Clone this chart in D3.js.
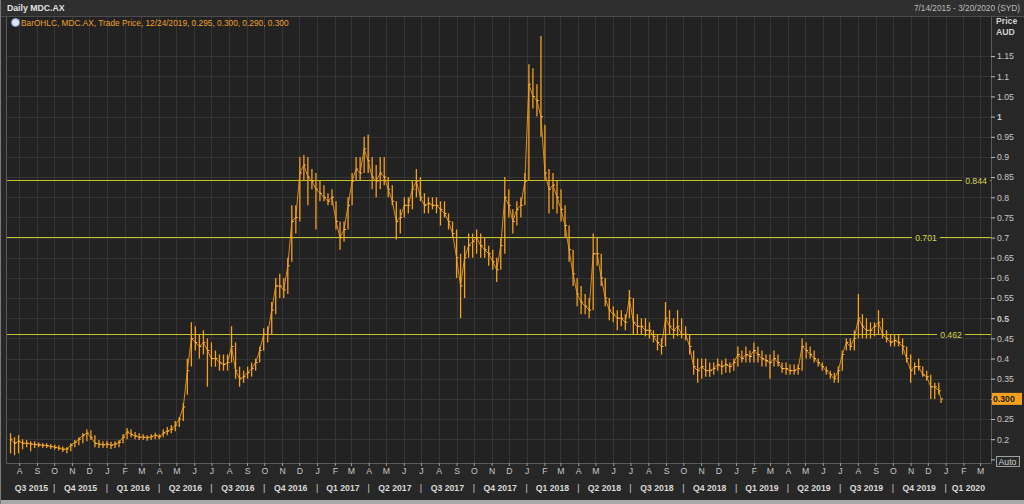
<!DOCTYPE html>
<html>
<head>
<meta charset="utf-8">
<script src="https://cdn.jsdelivr.net/npm/d3@7"></script>
<style>
  html, body { margin: 0; padding: 0; background: #262626; }
  svg { display: block; font-family: "Liberation Sans", Arial, sans-serif; }
</style>
</head>
<body>
<svg id="chart" width="1024" height="504"></svg>
<script>
// weekly bars (Friday of each week, last bar 12/24/2019)
const weekDates = d3.timeFriday.range(new Date(2015, 6, 17), new Date(2019, 11, 21));
weekDates.push(new Date(2019, 11, 24));

const highs = [
  // 2015
  .215,.205,.21,.20,.198,.195,.195,.192,.19,.19,.188,.186,.185,.182,.18,.19,.198,.205,.215,.225,.222,.21,.198,.195,
  // 2016
  .196,.194,.195,.198,.212,.228,.225,.218,.215,.212,.21,.212,.216,.212,.225,.23,.235,.245,.255,.29,.40,.49,.48,.46,.47,.45,
  .44,.42,.41,.41,.41,.48,.44,.38,.37,.38,.39,.40,.43,.475,.48,.54,.60,.61,.60,.65,.78,.78,.90,.905,.90,.87,.86,
  // 2017
  .84,.83,.81,.82,.79,.74,.74,.80,.86,.90,.90,.95,.955,.90,.88,.90,.90,.85,.83,.79,.77,.80,.80,.84,.87,.85,
  .81,.80,.80,.80,.79,.79,.76,.74,.72,.66,.68,.71,.71,.72,.71,.70,.68,.67,.65,.70,.85,.82,.77,.79,.80,.86,
  // 2018
  1.13,1.12,1.08,1.20,.98,.87,.86,.84,.82,.78,.73,.67,.60,.58,.56,.55,.71,.70,.66,.60,.55,.53,.52,.52,.51,.57,
  .55,.51,.50,.50,.49,.47,.46,.45,.54,.52,.50,.52,.50,.48,.46,.42,.40,.40,.40,.39,.39,.40,.395,.40,.39,.40,
  // 2019
  .43,.42,.43,.42,.44,.43,.42,.41,.41,.42,.41,.39,.39,.385,.385,.385,.45,.44,.43,.42,.40,.39,.38,.37,.365,.38,
  .42,.45,.45,.47,.56,.51,.50,.49,.49,.52,.50,.47,.46,.46,.46,.45,.43,.41,.39,.40,.38,.37,.36,.34,.34,.30
];
const lows = [
  // 2015
  .165,.16,.165,.175,.18,.17,.178,.18,.178,.178,.176,.174,.172,.168,.165,.17,.18,.185,.19,.195,.198,.18,.178,.178,
  // 2016
  .178,.176,.178,.18,.19,.20,.205,.20,.198,.198,.196,.198,.20,.20,.205,.21,.215,.22,.23,.245,.31,.38,.42,.40,.41,.33,
  .38,.38,.37,.37,.37,.39,.35,.33,.34,.35,.355,.37,.39,.42,.44,.46,.51,.55,.55,.56,.64,.71,.74,.84,.78,.82,.72,
  // 2017
  .79,.79,.78,.78,.72,.67,.69,.72,.78,.84,.84,.86,.86,.82,.80,.82,.83,.80,.78,.695,.71,.75,.76,.77,.80,.79,
  .76,.76,.77,.76,.73,.75,.72,.70,.60,.50,.55,.65,.65,.66,.65,.65,.63,.62,.59,.62,.66,.75,.71,.73,.75,.78,
  // 2018
  .84,1.02,1.00,.95,.84,.76,.77,.76,.74,.70,.64,.58,.53,.51,.51,.50,.52,.63,.58,.53,.495,.49,.47,.48,.47,.50,
  .46,.46,.46,.455,.45,.44,.42,.41,.43,.46,.45,.455,.45,.445,.41,.36,.34,.35,.355,.355,.36,.37,.36,.365,.365,.37,
  // 2019
  .38,.39,.39,.39,.39,.39,.38,.38,.35,.38,.38,.365,.36,.36,.36,.36,.37,.40,.40,.39,.38,.37,.36,.35,.34,.34,
  .37,.42,.42,.42,.45,.45,.45,.45,.455,.46,.45,.44,.43,.43,.43,.41,.39,.34,.36,.37,.355,.345,.30,.30,.31,.29
];
const closes = [
  // 2015
  .20,.19,.195,.19,.19,.188,.187,.186,.185,.184,.182,.18,.178,.175,.176,.185,.192,.20,.21,.215,.205,.19,.188,.186,
  // 2016
  .188,.185,.188,.192,.205,.218,.212,.208,.205,.205,.204,.206,.21,.206,.215,.22,.225,.235,.25,.28,.37,.45,.44,.43,.44,.42,
  .40,.40,.39,.385,.39,.43,.37,.35,.355,.365,.375,.39,.42,.46,.46,.52,.58,.58,.57,.63,.74,.75,.86,.88,.85,.84,.82,
  // 2017
  .81,.80,.79,.80,.74,.70,.72,.78,.84,.87,.86,.92,.89,.85,.84,.86,.85,.82,.79,.74,.75,.78,.78,.82,.84,.80,
  .78,.785,.78,.78,.77,.76,.74,.71,.65,.58,.65,.68,.69,.70,.68,.67,.66,.64,.62,.68,.80,.78,.74,.77,.78,.84,
  // 2018
  1.08,1.05,1.04,1.00,.86,.82,.83,.80,.77,.73,.67,.61,.56,.54,.53,.52,.66,.66,.60,.55,.52,.51,.50,.50,.49,.55,
  .49,.48,.48,.47,.47,.455,.44,.43,.50,.48,.47,.48,.46,.46,.43,.38,.37,.38,.37,.37,.375,.385,.38,.385,.38,.39,
  // 2019
  .41,.40,.41,.405,.42,.41,.40,.395,.39,.40,.39,.375,.375,.37,.37,.375,.43,.42,.41,.40,.39,.38,.37,.36,.35,.37,
  .41,.44,.43,.45,.50,.48,.47,.47,.48,.49,.46,.45,.44,.445,.44,.43,.40,.37,.38,.38,.36,.355,.33,.33,.32,.30
];

const levelValues = [0.844, 0.701, 0.462];
const levelLabels = ["0.844", "0.701", "0.462"];
const priceTicks = [0.15, 0.2, 0.25, 0.3, 0.35, 0.4, 0.45, 0.5, 0.55, 0.6, 0.65, 0.7, 0.75,
                    0.8, 0.85, 0.9, 0.95, 1, 1.05, 1.1, 1.15];
const hiddenTickLabels = [0.15, 0.3]; // covered by the "Auto" box and the last price tag
const lastPrice = 0.300;
const legendText = "BarOHLC, MDC.AX, Trade Price, 12/24/2019, 0.295, 0.300, 0.290, 0.300";

// layout
const W = 1024, H = 504;
const plot = { left: 6, top: 17, right: 991, bottom: 463 };
const levelLabelX = [976, 926, 951];
const fontSize = 8.7;
const barColor = "#f5a01e";
const levelColor = "#c4c42a";

const svg = d3.select("#chart");

const x = d3.scaleTime()
  .domain([new Date(2015, 6, 14), new Date(2020, 2, 20)])
  .range([8.8, plot.right]);
const y = d3.scaleLinear()
  .domain([0.141, 1.247])
  .range([plot.bottom, plot.top]);

// backgrounds
svg.append("rect").attr("width", W).attr("height", H).attr("fill", "#272727");
svg.append("rect").attr("width", W).attr("height", 16).attr("fill", "#2f2f2f");
svg.append("line").attr("x1", 0).attr("x2", W).attr("y1", 16.5).attr("y2", 16.5)
  .attr("stroke", "#4c4c4c");
svg.append("rect")
  .attr("x", plot.left).attr("y", plot.top)
  .attr("width", plot.right - plot.left).attr("height", plot.bottom - plot.top)
  .attr("fill", "#222222");

// grid
const months = d3.timeMonth.range(new Date(2015, 7, 1), new Date(2020, 2, 2));
svg.append("g").selectAll("line").data(months).join("line")
  .attr("x1", d => Math.round(x(d)) + 0.5).attr("x2", d => Math.round(x(d)) + 0.5)
  .attr("y1", plot.top).attr("y2", plot.bottom)
  .attr("stroke", "#353535");
svg.append("g").selectAll("line").data(priceTicks.filter(v => v > 0.15)).join("line")
  .attr("x1", plot.left).attr("x2", plot.right)
  .attr("y1", d => Math.round(y(d)) + 0.5).attr("y2", d => Math.round(y(d)) + 0.5)
  .attr("stroke", "#353535");

// plot frame
svg.append("path")
  .attr("d", `M${plot.left + 0.5},${plot.top}V${plot.bottom + 0.5}H${plot.right + 0.5}V${plot.top}`)
  .attr("fill", "none").attr("stroke", "#5a5a5a");

// level lines with labels sitting in a gap
levelValues.forEach((v, i) => {
  const yy = Math.round(y(v)) + 0.5;
  const lx = levelLabelX[i];
  svg.append("line").attr("x1", plot.left + 1).attr("x2", lx - 14)
    .attr("y1", yy).attr("y2", yy).attr("stroke", levelColor).attr("stroke-width", 1);
  svg.append("line").attr("x1", lx + 14).attr("x2", plot.right)
    .attr("y1", yy).attr("y2", yy).attr("stroke", levelColor).attr("stroke-width", 1);
  svg.append("text").attr("x", lx).attr("y", yy + 3)
    .attr("text-anchor", "middle").attr("font-size", fontSize)
    .attr("fill", "#d6d64a").text(levelLabels[i]);
});

// price bars
const bars = weekDates.map((d, i) => ({ date: d, high: highs[i], low: lows[i], close: closes[i] }));
svg.append("path")
  .datum(bars)
  .attr("fill", "none")
  .attr("stroke", barColor)
  .attr("stroke-width", 1)
  .attr("stroke-opacity", 0.85)
  .attr("d", d3.line().x(d => x(d.date)).y(d => y(d.close)));
const barG = svg.append("g").attr("stroke", barColor);
barG.selectAll("line.hl").data(bars).join("line")
  .attr("class", "hl")
  .attr("x1", d => x(d.date)).attr("x2", d => x(d.date))
  .attr("y1", d => y(d.high)).attr("y2", d => y(d.low))
  .attr("stroke-width", 1.3);
barG.selectAll("line.cl").data(bars).join("line")
  .attr("class", "cl")
  .attr("x1", d => x(d.date)).attr("x2", d => x(d.date) + 2)
  .attr("y1", d => y(d.close)).attr("y2", d => y(d.close))
  .attr("stroke", "#ffbf4a").attr("stroke-width", 1);

// right price axis
const yAxis = svg.append("g")
  .attr("transform", `translate(${plot.right},0)`)
  .call(d3.axisRight(y).tickValues(priceTicks).tickSize(4).tickPadding(2)
    .tickFormat(d => hiddenTickLabels.includes(d) ? "" : String(+d.toFixed(2))));
yAxis.select(".domain").remove();
yAxis.selectAll("line").attr("stroke", "#bdbdbd");
yAxis.selectAll("text")
  .attr("font-size", fontSize).attr("fill", "#c8c8c8")
  .attr("font-family", "Liberation Sans, Arial, sans-serif")
  .attr("font-weight", d => (d === 0.5 || d === 1) ? "bold" : "normal");

svg.append("text").attr("x", 996).attr("y", 24).attr("font-size", fontSize)
  .attr("font-weight", "bold").attr("fill", "#cfcfcf").text("Price");
svg.append("text").attr("x", 996).attr("y", 35).attr("font-size", fontSize)
  .attr("font-weight", "bold").attr("fill", "#cfcfcf").text("AUD");

// last price tag
const lastY = y(lastPrice);
svg.append("rect").attr("x", 992).attr("y", lastY - 6).attr("width", 30).attr("height", 12)
  .attr("fill", barColor);
svg.append("text").attr("x", 993).attr("y", lastY + 3.5).attr("font-size", fontSize)
  .attr("font-weight", "bold").attr("fill", "#1a1a1a").text(lastPrice.toFixed(3));

// auto box
svg.append("rect").attr("x", 996.5).attr("y", 456.5).attr("width", 23).attr("height", 10)
  .attr("fill", "#2a2a2a").attr("stroke", "#a0a0a0");
svg.append("text").attr("x", 998.5).attr("y", 464.5).attr("font-size", fontSize)
  .attr("fill", "#d0d0d0").text("Auto");

// bottom month axis
const xAxis = svg.append("g")
  .attr("transform", `translate(0,${plot.bottom})`)
  .call(d3.axisBottom(x).tickValues(months).tickSize(3).tickPadding(2)
    .tickFormat(d => d3.timeFormat("%B")(d)[0]));
xAxis.select(".domain").remove();
xAxis.selectAll("line").attr("stroke", "#9a9a9a");
xAxis.selectAll("text").attr("font-size", fontSize).attr("fill", "#c8c8c8")
  .attr("font-family", "Liberation Sans, Arial, sans-serif");

// quarter labels
const [d0, d1] = x.domain();
const quarters = d3.timeMonth.every(3).range(new Date(2015, 6, 1), d1);
const qG = svg.append("g").attr("font-size", fontSize).attr("fill", "#d8d8d8");
quarters.forEach(q => {
  const qEnd = d3.timeMonth.offset(q, 3);
  const a = x(q < d0 ? d0 : q), b = x(qEnd > d1 ? d1 : qEnd);
  const label = "Q" + (Math.floor(q.getMonth() / 3) + 1) + " " + q.getFullYear();
  qG.append("text").attr("x", (a + b) / 2).attr("y", 491).attr("text-anchor", "middle")
    .attr("font-weight", "bold").text(label);
  if (q >= d0) {
    qG.append("text").attr("x", x(q)).attr("y", 491).attr("text-anchor", "middle").text("|");
  }
});

// header
svg.append("text").attr("x", 7).attr("y", 11).attr("font-size", fontSize)
  .attr("font-weight", "bold").attr("fill", "#e2e2e2").text("Daily MDC.AX");
svg.append("text").attr("x", 1020).attr("y", 11).attr("text-anchor", "end")
  .attr("font-size", 8.3).attr("fill", "#bdbdbd").text("7/14/2015 - 3/20/2020 (SYD)");

// legend
svg.append("circle").attr("cx", 15.5).attr("cy", 22.5).attr("r", 4)
  .attr("fill", "#dfe6f2").attr("stroke", "#7d97c4");
svg.append("text").attr("x", 21).attr("y", 25.5).attr("font-size", 8.3)
  .attr("fill", "#f0a028").text(legendText);

// outer edges
svg.append("rect").attr("x", 0).attr("y", 500).attr("width", W).attr("height", 4).attr("fill", "#a8a8a8");
svg.append("rect").attr("x", 0).attr("y", 0).attr("width", 1).attr("height", H).attr("fill", "#7a7a7a");
</script>
</body>
</html>
